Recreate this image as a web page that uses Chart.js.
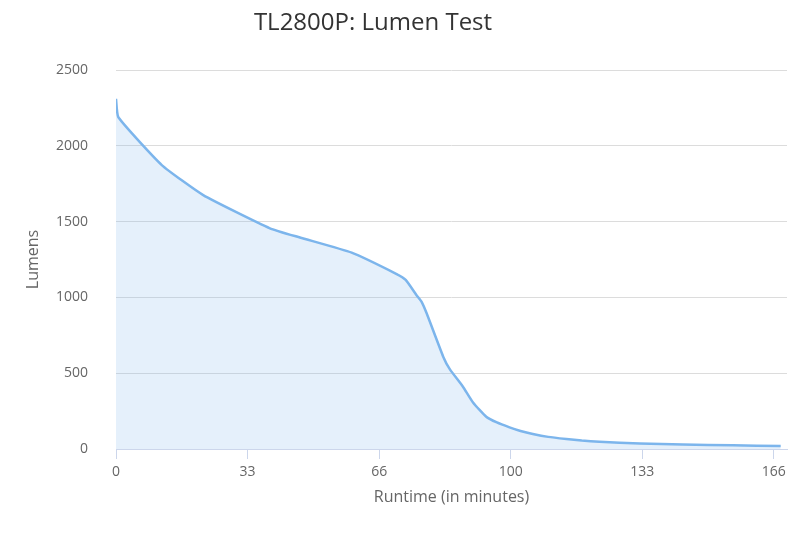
<!DOCTYPE html>
<html>
<head>
<meta charset="utf-8">
<script src="https://cdn.jsdelivr.net/npm/chart.js@4"></script>
<style>
  html, body { margin: 0; padding: 0; background: #fff; }
  #wrap { width: 800px; height: 533px; }
</style>
</head>
<body>
<div id="wrap"><canvas id="lumenChart" width="800" height="533"></canvas></div>
<script>
// runtime in minutes / output in lumens
const minutes = [0, 0.6, 11.6, 22.1, 39, 46.6, 59.7, 71.1, 73.4, 76.1, 77.4, 78.7, 82.9, 84.6, 87.9, 90.5, 93.8, 96.5, 99.7, 102.5, 105.6, 109.5, 114.1, 118, 122.5, 132.7, 143.6, 156.3, 168.4];
const lumens = [2310, 2188, 1873, 1675, 1456, 1395, 1295, 1154, 1115, 1016, 972, 895, 609, 525, 411, 305, 213, 175, 143, 119, 99, 80, 66, 56, 48, 36, 30, 24, 20];

// x ticks sit every 1/3 of 100 minutes, labels are truncated
const xTickValues = [0, 100 / 3, 200 / 3, 100, 400 / 3, 500 / 3];
const xTickLabels = ['0', '33', '66', '100', '133', '166'];

const points = minutes.map((m, i) => ({ x: m, y: lumens[i] }));

const FONT = "'Open Sans', sans-serif";

// title is centred a bit left of the canvas centre, so draw it by hand
const titlePlugin = {
    id: 'topTitle',
    afterDraw(chart) {
        const c = chart.ctx;
        c.save();
        c.font = '24px ' + FONT;
        c.fillStyle = '#333333';
        c.textAlign = 'center';
        c.textBaseline = 'middle';
        c.fillText('TL2800P: Lumen Test', 373, 23);
        c.restore();
    }
};

const ctx = document.getElementById('lumenChart').getContext('2d');
new Chart(ctx, {
    type: 'line',
    data: {
        datasets: [{
            label: 'Lumens',
            data: points,
            borderColor: '#7cb5ec',
            backgroundColor: 'rgba(124,181,236,0.2)',
            borderWidth: 2.5,
            fill: 'origin',
            pointRadius: 0,
            tension: 0.15
        }]
    },
    options: {
        responsive: false,
        animation: false,
        layout: { padding: { left: 20, right: 13, top: 70, bottom: 26 } },
        plugins: {
            legend: { display: false },
            tooltip: { enabled: false },
            title: { display: false }
        },
        scales: {
            x: {
                type: 'linear',
                min: 0,
                max: 170,
                afterBuildTicks: (scale) => {
                    scale.ticks = xTickValues.map(v => ({ value: v }));
                },
                afterFit: (scale) => { scale.height = 58; },
                ticks: {
                    color: '#666666',
                    font: { family: FONT, size: 14 },
                    padding: 5,
                    maxRotation: 0,
                    autoSkip: false,
                    callback: (v, i) => xTickLabels[i]
                },
                grid: {
                    drawOnChartArea: false,
                    drawTicks: true,
                    tickLength: 10,
                    color: '#ccd6eb'
                },
                border: { color: '#ccd6eb', width: 1 },
                title: {
                    display: true,
                    text: 'Runtime (in minutes)',
                    color: '#666666',
                    font: { family: FONT, size: 16 },
                    padding: { top: 0, bottom: 0 }
                }
            },
            y: {
                min: 0,
                max: 2500,
                afterFit: (scale) => { scale.width = 96; },
                ticks: {
                    stepSize: 500,
                    color: '#666666',
                    font: { family: FONT, size: 14 },
                    padding: 28,
                    callback: (v) => String(v)
                },
                grid: {
                    color: '#dcdcdc',
                    drawTicks: false
                },
                border: { display: false },
                title: {
                    display: true,
                    text: 'Lumens',
                    color: '#666666',
                    font: { family: FONT, size: 16 },
                    padding: { top: 4, bottom: 0 }
                }
            }
        }
    },
    plugins: [titlePlugin]
});
</script>
</body>
</html>
